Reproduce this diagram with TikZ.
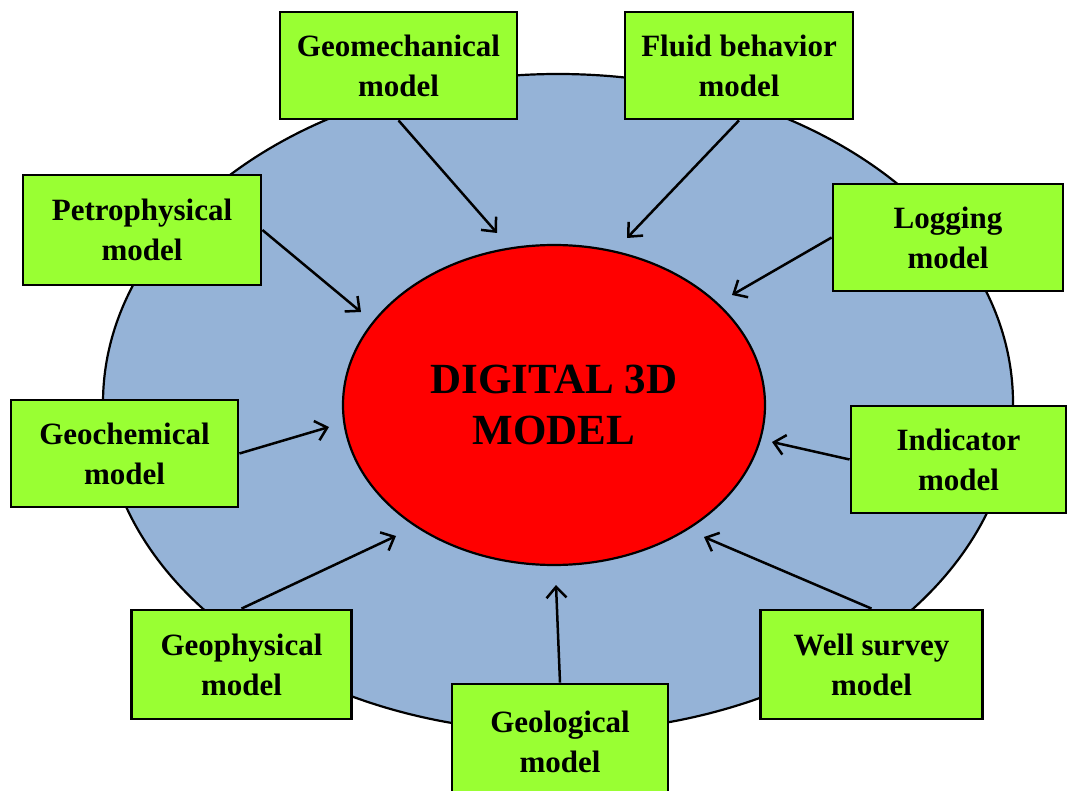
\documentclass[tikz,border=0pt]{standalone}
\usepackage{fontspec}
\setmainfont{Liberation Serif}
\usetikzlibrary{arrows.meta,shapes.geometric}
\definecolor{boxgreen}{HTML}{99FF33}
\definecolor{outerblue}{HTML}{95B3D7}
\definecolor{innerred}{HTML}{FF0000}
\tikzset{
  modelbox/.style={draw=black, line width=2.8pt, fill=boxgreen, rectangle, inner sep=0pt,
    align=center, font=\fontsize{31}{40}\selectfont\bfseries},
  feed/.style={draw=black, line width=2.5pt, -{Straight Barb[length=11pt,width=20pt,line width=2.5pt]}},
}
\begin{document}
\begin{tikzpicture}[x=1pt,y=-1pt]
\useasboundingbox (0,0) rectangle (1069,791);
% outer ellipse
\node[draw=black, line width=2.2pt, fill=outerblue, ellipse, minimum width=910pt, minimum height=658pt, inner sep=0pt] (outer) at (558,403) {};
% inner ellipse
\node[draw=black, line width=2.2pt, fill=innerred, ellipse, minimum width=422pt, minimum height=320pt, inner sep=0pt,
  align=center, font=\fontsize{43}{52}\selectfont\bfseries] (core) at (554,405) {DIGITAL 3D\\[-1pt]MODEL};
% boxes
\node[modelbox, minimum width=237pt, minimum height=107pt] (geomech) at (398.5,65.5) {Geomechanical\\model};
\node[modelbox, minimum width=228pt, minimum height=107pt] (fluid) at (739,65.5) {Fluid behavior\\model};
\node[modelbox, minimum width=238pt, minimum height=110pt] (petro) at (142,230) {Petrophysical\\model};
\node[modelbox, minimum width=230pt, minimum height=107pt] (logging) at (948,237.5) {Logging\\model};
\node[modelbox, minimum width=227pt, minimum height=107pt] (geochem) at (124.5,453.5) {Geochemical\\model};
\node[modelbox, minimum width=215pt, minimum height=107pt] (indicator) at (958.5,459.5) {Indicator\\model};
\node[modelbox, minimum width=220pt, minimum height=109pt] (geophys) at (241.5,664.5) {Geophysical\\model};
\node[modelbox, minimum width=222pt, minimum height=109pt] (well) at (871.5,664.5) {Well survey\\model};
\node[modelbox, minimum width=216pt, minimum height=116pt, text depth=0pt] (geolog) at (560,742) {\raisebox{29pt}{\begin{tabular}{@{}c@{}}Geological\\model\end{tabular}}};
% arrow tips
\coordinate (t1) at (497,233);
\coordinate (t2) at (627,238);
\coordinate (t3) at (361,312);
\coordinate (t4) at (732,295);
\coordinate (t5) at (329,427);
\coordinate (t6) at (772,442);
\coordinate (t7) at (396,536);
\coordinate (t8) at (704,537);
\coordinate (t9) at (556,585);
% arrows
\draw[feed] (geomech.south) -- (t1);
\draw[feed] (fluid.south) -- (t2);
\draw[feed] (petro.east) -- (t3);
\draw[feed] (logging.west) -- (t4);
\draw[feed] (geochem.east) -- (t5);
\draw[feed] (indicator.west) -- (t6);
\draw[feed] (geophys.north) -- (t7);
\draw[feed] (well.north) -- (t8);
\draw[feed] (geolog.north) -- (t9);
\end{tikzpicture}
\end{document}
